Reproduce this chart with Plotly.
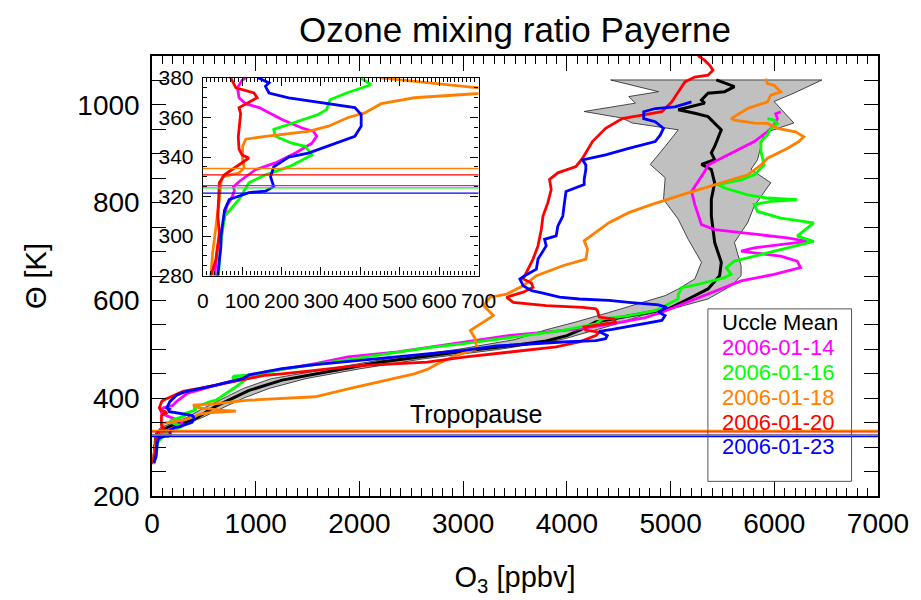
import plotly.graph_objects as go

# ---------------- data (theta in K, ozone in ppbv) ----------------
mean_theta = [268, 300, 320, 335, 345, 355, 370, 384, 400, 416, 437, 450, 462, 474, 483, 491, 500, 508,
              517, 528, 539, 556, 570, 582.8, 603, 623.5, 650.6, 678, 718.6, 772.7, 806.7, 840.7, 868,
              878, 888, 902, 915, 949, 976, 983, 990, 1003.6, 1010, 1024, 1027, 1037.5, 1051]
mean_o3 = [15, 28, 45, 100, 200, 395, 510, 618, 780, 936, 1254, 1573, 1891, 2209, 2528, 2846, 3160, 3483,
           3800, 4000, 4119, 4279, 4650, 4979, 5170, 5361, 5473, 5489, 5425, 5393, 5393, 5425, 5393,
           5298, 5425, 5393, 5425, 5489, 5361, 5234, 5074, 5329, 5298, 5361, 5521, 5616, 5441]

band_left_theta = [265, 300, 320, 340, 352, 360, 380, 400, 420, 440, 460, 480, 500, 520, 540, 556, 575,
                   596, 610, 623.5, 644, 678, 725, 766, 806.7, 851, 878, 915, 949, 963, 973, 986.5,
                   1003.6, 1017, 1027, 1051]
band_left_o3 = [5, 15, 25, 80, 230, 330, 500, 690, 880, 1150, 1700, 2250, 2950, 3500, 3800, 4088, 4400,
                4725, 4950, 5074, 5234, 5298, 5170, 5074, 4932, 4948, 4804, 4948, 5074, 4629, 4534, 4167,
                4661, 4597, 4884, 4422]
band_right_theta = [265, 300, 320, 340, 352, 360, 380, 400, 420, 440, 460, 480, 500, 520, 535, 550, 569,
                    585, 603, 630, 650.6, 671, 718.6, 759, 793, 840.7, 868, 888, 942.5, 963, 1007, 1024,
                    1051]
band_right_o3 = [25, 45, 80, 260, 380, 480, 680, 880, 1130, 1480, 2000, 2600, 3350, 3950, 4200, 4450,
                 4725, 5050, 5361, 5584, 5680, 5680, 5616, 5743, 5807, 5966, 5775, 5839, 5902, 6189,
                 5998, 6189, 6460]

theta_0114 = [268, 280, 295, 309, 315, 320, 323, 325, 328, 333.6, 337, 342, 347, 350.5, 353, 354.7, 359,
              365, 367, 370, 375, 379, 381, 385, 392, 400, 410, 426.6, 443.7, 454, 459, 470.8, 484.4,
              494.6, 504.8, 515, 528.4, 535, 542, 552, 565, 576, 592, 619.4, 640, 653.4, 667, 680.5,
              690.7, 697.4, 701, 707.6, 714.5, 721, 728, 738, 745, 755, 775.6, 796, 823, 843.4, 863.7,
              877, 891, 911, 925, 945, 959, 972, 982, 986]
o3_0114 = [15, 30, 38, 55, 60, 75, 80, 78, 95, 134, 184, 235, 277, 289, 281, 252, 201, 143, 109, 92, 88,
           100, 117, 200, 230, 280, 340, 618, 936, 1095, 1254, 1573, 1891, 2369, 2687, 3006, 3451, 3801,
           4119, 4438, 4756, 4916, 5107, 5425, 5680, 5998, 6253, 6221, 6062, 5807, 5680, 5807, 6062,
           6317, 6125, 5743, 5425, 5298, 5266, 5234, 5202, 5266, 5329, 5361, 5489, 5680, 5807, 5934,
           5998, 6030, 6014, 6062]

theta_0116 = [267, 280.5, 295, 310, 318.5, 324, 327, 331, 335, 341, 345.4, 347, 350.5, 354, 357, 361.5,
              364, 369, 372.4, 375, 376.6, 380, 392.8, 396, 410, 425, 438, 441, 445, 448, 459, 468.8,
              479.6, 489, 498, 504, 511.5, 525, 538.6, 552, 562, 569, 579, 603, 612.7, 626, 633, 646.5,
              653.4, 667, 680.5, 687, 701, 721, 731.4, 741.6, 758.5, 768.6, 782, 796, 802.7, 806, 809.5,
              816, 830, 836.7, 846.8, 857, 877, 904.5, 925, 938.5, 952, 962, 969, 972]
o3_0116 = [10, 40, 45, 55, 92, 109, 117, 159, 218, 277, 260, 226, 184, 180, 226, 293, 314, 323, 365, 402,
           427, 402, 554, 618, 720, 820, 904, 776, 790, 1000, 1254, 1573, 1891, 2209, 2500, 2687, 3006,
           3483, 3961, 4279, 4343, 4597, 4852, 5074, 5074, 5107, 5266, 5521, 5584, 5537, 5616, 5743,
           5998, 6380, 6221, 6285, 6380, 6062, 5839, 5807, 5966, 6221, 5934, 5743, 5521, 5457, 5680,
           5807, 5902, 5871, 5871, 5934, 5966, 6030, 5998, 5934]

theta_0118 = [268, 281, 291.5, 305, 318.5, 327, 330, 332, 334.5, 338.7, 345.4, 349, 350.5, 353, 355.6,
              360, 362.3, 367, 370, 372.4, 373.5, 375, 377.5, 380, 386, 389, 396, 403, 419, 435, 450,
              459, 470, 479, 486, 501, 521.7, 538.6, 555.7, 569, 589.5, 606.6, 613, 630, 650.6, 671,
              684.6, 705, 722, 739, 759, 779.6, 795, 816, 836.7, 857, 877, 891, 911, 925, 935, 945,
              952, 962, 962.5, 969, 972, 992.6, 1006, 1020, 1026.6, 1040, 1043.5, 1053.7]
o3_0118 = [10, 21, 25, 34, 42, 46, 50, 92, 105, 101, 101, 109, 159, 268, 319, 369, 411, 453, 537, 720,
           810, 700, 578, 453, 395, 618, 936, 1573, 1891, 2209, 2528, 2655, 2750, 2846, 2910, 3133,
           3117, 3069, 3197, 3292, 3197, 3260, 3419, 3579, 3706, 3961, 4183, 4199, 4167, 4279, 4406,
           4597, 4800, 5107, 5425, 5743, 5871, 5934, 6125, 6237, 6285, 6205, 6030, 5934, 5807, 5616,
           5584, 5743, 5934, 5966, 6062, 5998, 5934, 5918]

theta_0120 = [268, 280, 288, 301.6, 310, 318.5, 327, 331, 335, 339.5, 341, 344, 350, 355.6, 362, 365,
              367, 370, 372.4, 374, 375, 380, 393, 396, 414, 420, 427, 435, 440, 447, 450, 454, 457,
              466, 470, 474, 484, 491, 498, 505, 515, 528, 535, 539, 545.5, 549, 555.6, 562, 566, 579,
              583, 586, 589.5, 596, 606.6, 617, 627, 635.7, 644, 664, 684.6, 711.6, 745.6, 772.7, 800,
              827, 847.5, 861, 874, 891, 925, 952, 972, 979, 986, 1006, 1047, 1057, 1060.6, 1071, 1081,
              1091, 1101]
o3_0120 = [10, 21, 33, 42, 38, 40, 42, 55, 85, 117, 100, 92, 90, 92, 96, 92, 109, 138, 130, 100, 84, 71,
           93, 108, 299, 458, 618, 809, 936, 1095, 1254, 1413, 1573, 1955, 2300, 2655, 3006, 3324,
           3642, 3897, 4119, 4279, 4311, 4183, 4167, 4279, 4470, 4454, 4311, 4295, 4279, 4152, 3801,
           3483, 3419, 3579, 3674, 3658, 3579, 3626, 3674, 3722, 3754, 3770, 3817, 3849, 3833, 3913,
           4088, 4152, 4247, 4374, 4534, 4725, 4916, 5011, 5138, 5234, 5361, 5409, 5377, 5329, 5265]

theta_0123 = [268, 280.5, 295, 300, 313, 318.5, 322, 322.7, 325, 330, 335, 340, 342, 347, 350.5, 355.6,
              361.5, 365, 367, 370, 372.4, 375.8, 377.5, 380, 393, 406, 413, 426.6, 440, 448, 460.6,
              468.8, 475.5, 482, 491, 498, 507, 511.5, 515, 518, 521.7, 528, 536.5, 540.6, 549, 559,
              569, 576, 586, 591, 596, 600, 603, 606.6, 615, 620, 630, 644, 650.6, 664, 684.6, 711.6,
              725, 732, 752, 772.7, 800, 823, 837, 847.5, 868, 877, 887.6, 897.7, 911, 925, 938, 952,
              965.5, 972, 986, 992.6, 996, 1002.8, 1006]
o3_0123 = [20, 38, 46, 46, 55, 67, 117, 159, 180, 172, 180, 218, 268, 335, 386, 402, 402, 386, 319, 218,
           168, 159, 168, 142, 172, 236, 315, 618, 872, 936, 1254, 1573, 1891, 2209, 2687, 3006, 3324,
           3642, 3961, 4279, 4374, 4390, 4311, 4438, 4661, 4916, 4947, 4884, 4963, 4884, 4597, 4406,
           4119, 3929, 3770, 3660, 3579, 3547, 3594, 3706, 3722, 3801, 3785, 3897, 3913, 3961, 3977,
           3992, 4167, 4167, 4183, 4183, 4152, 4374, 4597, 4852, 4900, 4932, 4852, 4741, 4741, 4852,
           5043, 5170, 5202]

sonde_dates = ["2006-01-14", "2006-01-16", "2006-01-18", "2006-01-20", "2006-01-23"]
sonde_colors = ["#FF00FF", "#00FF00", "#FF8000", "#FF0000", "#0000FF"]
sonde_theta = [theta_0114, theta_0116, theta_0118, theta_0120, theta_0123]
sonde_o3 = [o3_0114, o3_0116, o3_0118, o3_0120, o3_0123]
tropopause_theta = [325.5, 324.4, 334.2, 331.0, 321.7]

# ---------------- figure ----------------
FONT = "Liberation Sans, Arial, Helvetica, sans-serif"
fig = go.Figure()

band_x = band_left_o3 + band_right_o3[::-1]
band_y = band_left_theta + band_right_theta[::-1]
fig.add_trace(go.Scatter(x=band_x, y=band_y, mode="lines", fill="toself", fillcolor="#C0C0C0",
                         line=dict(color="#202020", width=0.8), xaxis="x", yaxis="y", hoverinfo="skip"))
fig.add_trace(go.Scatter(x=mean_o3, y=mean_theta, mode="lines", line=dict(color="black", width=3),
                         xaxis="x", yaxis="y", name="Uccle Mean"))

for d, c, th, o in zip(sonde_dates, sonde_colors, sonde_theta, sonde_o3):
    fig.add_trace(go.Scatter(x=o, y=th, mode="lines", line=dict(color=c, width=2.8),
                             xaxis="x", yaxis="y", name=d))
for d, c, th, o in zip(sonde_dates, sonde_colors, sonde_theta, sonde_o3):
    fig.add_trace(go.Scatter(x=o, y=th, mode="lines", line=dict(color=c, width=2.8),
                             xaxis="x2", yaxis="y2", name=d, showlegend=False))

shapes = []
for c, t in zip(sonde_colors, tropopause_theta):
    shapes.append(dict(type="line", xref="x domain", yref="y", x0=0, x1=1, y0=t, y1=t,
                       line=dict(color=c, width=1.3), layer="above"))
    shapes.append(dict(type="line", xref="x2 domain", yref="y2", x0=0, x1=1, y0=t, y1=t,
                       line=dict(color=c, width=1.3), layer="above"))
# legend box
shapes.append(dict(type="rect", xref="paper", yref="paper", x0=0.7657, x1=0.9636, y0=0.0333, y1=0.4253,
                   line=dict(color="#555555", width=1), fillcolor="rgba(0,0,0,0)", layer="above"))

annotations = []
legend_labels = ["Uccle Mean"] + sonde_dates
legend_colors = ["black"] + sonde_colors
legend_y = [0.395, 0.337, 0.280, 0.224, 0.168, 0.112]
for lab, col, yy in zip(legend_labels, legend_colors, legend_y):
    annotations.append(dict(text=lab, x=0.783, y=yy, xref="paper", yref="paper", xanchor="left",
                            yanchor="middle", showarrow=False, font=dict(size=22, color=col, family=FONT)))
annotations.append(dict(text="Tropopause", x=0.4475, y=0.1855, xref="paper", yref="paper",
                        xanchor="center", yanchor="middle", showarrow=False,
                        font=dict(size=25, color="black", family=FONT)))

axis_common = dict(ticks="inside", tickcolor="black", showline=True, linecolor="black", mirror="ticks",
                   showgrid=False, zeroline=False, tickmode="linear")

fig.update_layout(
    width=921, height=600,
    margin=dict(l=152, r=36, t=56, b=102),
    paper_bgcolor="white", plot_bgcolor="white",
    showlegend=False,
    font=dict(family=FONT, color="black"),
    title=dict(text="Ozone mixing ratio Payerne", x=0.5, xref="paper", xanchor="center",
               y=1 - 30 / 600, yref="container", yanchor="middle",
               font=dict(size=35, color="black", family=FONT)),
    xaxis=dict(domain=[0, 1], range=[0, 7000], tick0=0, dtick=1000, ticklen=15, tickwidth=1.3,
               linewidth=1.5, tickfont=dict(size=28), ticklabelstandoff=2,
               title=dict(text="O<sub>3</sub> [ppbv]", font=dict(size=29, family=FONT), standoff=28),
               minor=dict(dtick=100, ticklen=8, ticks="inside", tickcolor="black", tickwidth=1),
               anchor="y", **axis_common),
    yaxis=dict(domain=[0, 1], range=[200, 1100], tick0=200, dtick=200, ticklen=14, tickwidth=1.3,
               linewidth=1.5, tickfont=dict(size=28), ticklabelstandoff=5,
               title=dict(text="Θ [K]", font=dict(size=29, family=FONT), standoff=22),
               minor=dict(dtick=50, ticklen=14, ticks="inside", tickcolor="black", tickwidth=1.3),
               anchor="x", **axis_common),
    xaxis2=dict(domain=[0.070, 0.4498], range=[0, 700], tick0=0, dtick=100, ticklen=8, tickwidth=1,
                linewidth=1.2, tickfont=dict(size=21), ticklabelstandoff=6,
                minor=dict(dtick=10, ticklen=4, ticks="inside", tickcolor="black", tickwidth=1),
                anchor="y2", **axis_common),
    yaxis2=dict(domain=[0.501, 0.950], range=[280, 380], tick0=280, dtick=20, ticklen=8, tickwidth=1,
                linewidth=1.2, tickfont=dict(size=21), ticklabelstandoff=4,
                minor=dict(dtick=5, ticklen=4, ticks="inside", tickcolor="black", tickwidth=1),
                anchor="x2", **axis_common),
    shapes=shapes,
    annotations=annotations,
)

fig.write_html("out.html")
